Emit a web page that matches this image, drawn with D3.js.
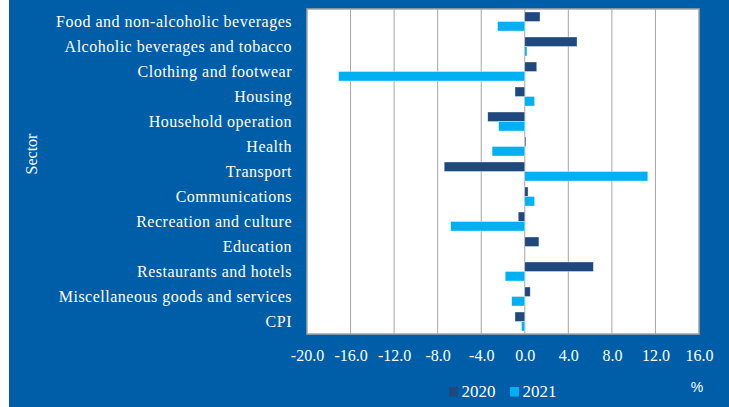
<!DOCTYPE html>
<html><head><meta charset="utf-8">
<script src="https://cdn.jsdelivr.net/npm/d3@7"></script>
<style>
html,body{margin:0;padding:0;background:#fff;}
svg{display:block;}
</style></head>
<body>
<svg id="chart" width="729" height="407"></svg>
<script>
const categories = ["Food and non-alcoholic beverages","Alcoholic beverages and tobacco","Clothing and footwear","Housing","Household operation","Health","Transport","Communications","Recreation and culture","Education","Restaurants and hotels","Miscellaneous goods and services","CPI"];
const series = ["2020","2021"];
const values2020 = [1.4, 4.8, 1.1, -0.9, -3.4, 0.1, -7.4, 0.3, -0.6, 1.3, 6.3, 0.5, -0.9];
const values2021 = [-2.5, 0.2, -17.1, 0.9, -2.4, -3.0, 11.3, 0.9, -6.8, 0.0, -1.8, -1.2, -0.3];
const xTicks = [-20, -16, -12, -8, -4, 0, 4, 8, 12, 16];
const colors = {"2020":"#1F497D","2021":"#00B0F0"};

const svg = d3.select("#chart");
const W = 729, H = 407;
const blue = "#005DA8";
svg.append("rect").attr("x",0).attr("y",0).attr("width",W).attr("height",H).attr("fill","#fff");
svg.append("rect").attr("x",9).attr("y",0).attr("width",W-9).attr("height",H).attr("fill",blue);

const plot = {l:307, r:699, t:9, b:334};
const x = d3.scaleLinear().domain([-20,16]).range([plot.l, plot.r]);
const y = d3.scaleBand().domain(categories).range([plot.t, plot.b]).paddingInner(0.24).paddingOuter(0.12);
const ys = d3.scaleBand().domain(series).range([0, y.bandwidth()]);

svg.append("rect").attr("x",plot.l).attr("y",plot.t).attr("width",plot.r-plot.l).attr("height",plot.b-plot.t).attr("fill","#fff");

// gridlines
svg.append("g").selectAll("line").data(xTicks.slice(1,-1)).join("line")
  .attr("x1",d=>x(d)).attr("x2",d=>x(d)).attr("y1",plot.t).attr("y2",plot.b)
  .attr("stroke","#A6A6A6").attr("stroke-width",1);

const data = [];
categories.forEach((c,i)=>{
  data.push({c, s:"2020", v:values2020[i]});
  data.push({c, s:"2021", v:values2021[i]});
});
svg.append("g").selectAll("rect").data(data.filter(d=>d.v!==0)).join("rect")
  .attr("x",d=>x(Math.min(0,d.v)))
  .attr("width",d=>Math.abs(x(d.v)-x(0)))
  .attr("y",d=>y(d.c)+ys(d.s))
  .attr("height",ys.bandwidth())
  .attr("fill",d=>colors[d.s])
  .attr("stroke","rgba(255,255,255,0.6)").attr("stroke-width",0.6);

// plot border
svg.append("rect").attr("x",plot.l).attr("y",plot.t).attr("width",plot.r-plot.l).attr("height",plot.b-plot.t)
  .attr("fill","none").attr("stroke","#A6A6A6").attr("stroke-width",1.5);

const serif = "'Liberation Serif','Times New Roman',serif";
// x axis tick labels
const fmt = d => d.toFixed(1);
const xAxis = d3.axisBottom(x).tickValues(xTicks).tickFormat(fmt).tickSize(0).tickPadding(0);
const gx = svg.append("g").attr("transform",`translate(0,${plot.b})`).call(xAxis);
gx.select(".domain").remove();
gx.selectAll("text").attr("fill","#fff").attr("font-family",serif).attr("font-size",16)
  .attr("dy",null).attr("y",27);

// y axis category labels
const yAxis = d3.axisLeft(y).tickSize(0).tickPadding(0);
const gy = svg.append("g").attr("transform",`translate(292,0)`).call(yAxis);
gy.select(".domain").remove();
gy.selectAll("text").attr("fill","#fff").attr("font-family",serif).attr("font-size",16)
  .attr("letter-spacing","0.5px").attr("x",0).attr("dy","0.34em");

// axis title
svg.append("text").attr("transform","translate(37,154) rotate(-90)").attr("text-anchor","middle")
  .attr("fill","#fff").attr("font-family",serif).attr("font-size",16).text("Sector");

// legend
const legX = [449, 510];
series.forEach((s,i)=>{
  svg.append("rect").attr("x",legX[i]).attr("y",387).attr("width",9).attr("height",9.5).attr("fill",colors[s]);
  svg.append("text").attr("x",legX[i]+12.5).attr("y",397).attr("fill","#fff")
    .attr("font-family",serif).attr("font-size",17).text(s);
});
svg.append("text").attr("x",697).attr("y",392).attr("text-anchor","middle").attr("fill","#fff")
  .attr("font-family","'Liberation Sans',Arial,sans-serif").attr("font-size",14).text("%");
</script>
</body></html>
